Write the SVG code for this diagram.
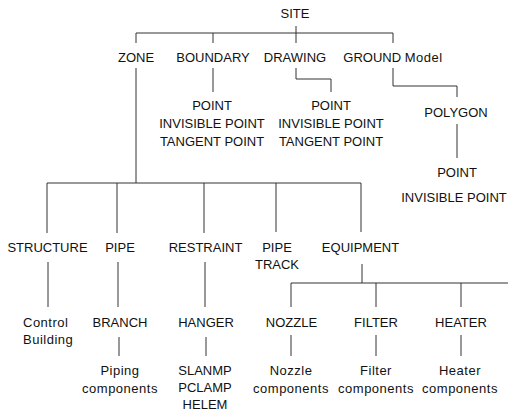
<svg xmlns="http://www.w3.org/2000/svg" width="508" height="412" viewBox="0 0 508 412">
<style>
text{font-family:"Liberation Sans",Arial,sans-serif;font-size:13px;fill:#111;text-anchor:middle}
.lc{letter-spacing:0.5px}
.st{text-anchor:start}
#connectors path{fill:none;stroke:#333;stroke-width:1}
</style>
<rect width="508" height="412" fill="#fff"/>
<g id="connectors">
<path d="M136,33H393M296,26V43M136,33V43M213,33V43M393,33V43"/>
<path d="M136,68V183M213,68V92M296,68V79H331V92M393,68V86H457V97M457,124V158"/>
<path d="M47,183H361M47,183V233M117,183V233M204,183V233M276,183V232M361,183V232"/>
<path d="M48,262V307M118,262V307M205,262V307M362,264V283"/>
<path d="M291,283H508M291,283V307M376,283V307M461,283V307"/>
<path d="M119,337V356M206,337V356M291,335V356M376,335V356M461,335V356"/>
</g>
<g id="site"><text x="295" y="18">SITE</text></g>
<g id="zone"><text x="136" y="62">ZONE</text></g>
<g id="boundary"><text x="213" y="62">BOUNDARY</text></g>
<g id="drawing"><text x="295" y="62">DRAWING</text></g>
<g id="ground"><text x="393" y="62">GROUND <tspan class="lc">Model</tspan></text></g>
<g id="boundary-points"><text x="212" y="110">POINT</text><text x="212" y="128">INVISIBLE POINT</text><text x="212" y="146">TANGENT POINT</text></g>
<g id="drawing-points"><text x="331" y="110">POINT</text><text x="331" y="128">INVISIBLE POINT</text><text x="331" y="146">TANGENT POINT</text></g>
<g id="polygon"><text x="456" y="117">POLYGON</text></g>
<g id="polygon-points"><text x="457" y="177">POINT</text><text x="454" y="202">INVISIBLE POINT</text></g>
<g id="structure"><text x="47.5" y="252">STRUCTURE</text></g>
<g id="pipe"><text x="120" y="252">PIPE</text></g>
<g id="restraint"><text x="205.5" y="252">RESTRAINT</text></g>
<g id="pipetrack"><text x="277" y="252">PIPE</text><text x="277" y="269">TRACK</text></g>
<g id="equipment"><text x="360.5" y="252">EQUIPMENT</text></g>
<g id="control-building"><text class="lc st" x="23" y="327">Control</text><text class="lc st" x="23" y="344">Building</text></g>
<g id="branch"><text x="120" y="327">BRANCH</text></g>
<g id="hanger"><text x="206" y="327">HANGER</text></g>
<g id="nozzle"><text x="291.5" y="327">NOZZLE</text></g>
<g id="filter"><text x="376" y="327">FILTER</text></g>
<g id="heater"><text x="461" y="327">HEATER</text></g>
<g id="piping-components"><text class="lc" x="120" y="375">Piping</text><text class="lc" x="120" y="393">components</text></g>
<g id="hanger-items"><text x="205" y="375">SLANMP</text><text x="205" y="392">PCLAMP</text><text x="205" y="409">HELEM</text></g>
<g id="nozzle-components"><text class="lc" x="291" y="375">Nozzle</text><text class="lc" x="291" y="393">components</text></g>
<g id="filter-components"><text class="lc" x="376" y="375">Filter</text><text class="lc" x="376" y="393">components</text></g>
<g id="heater-components"><text class="lc" x="460" y="375">Heater</text><text class="lc" x="460" y="393">components</text></g>
</svg>
